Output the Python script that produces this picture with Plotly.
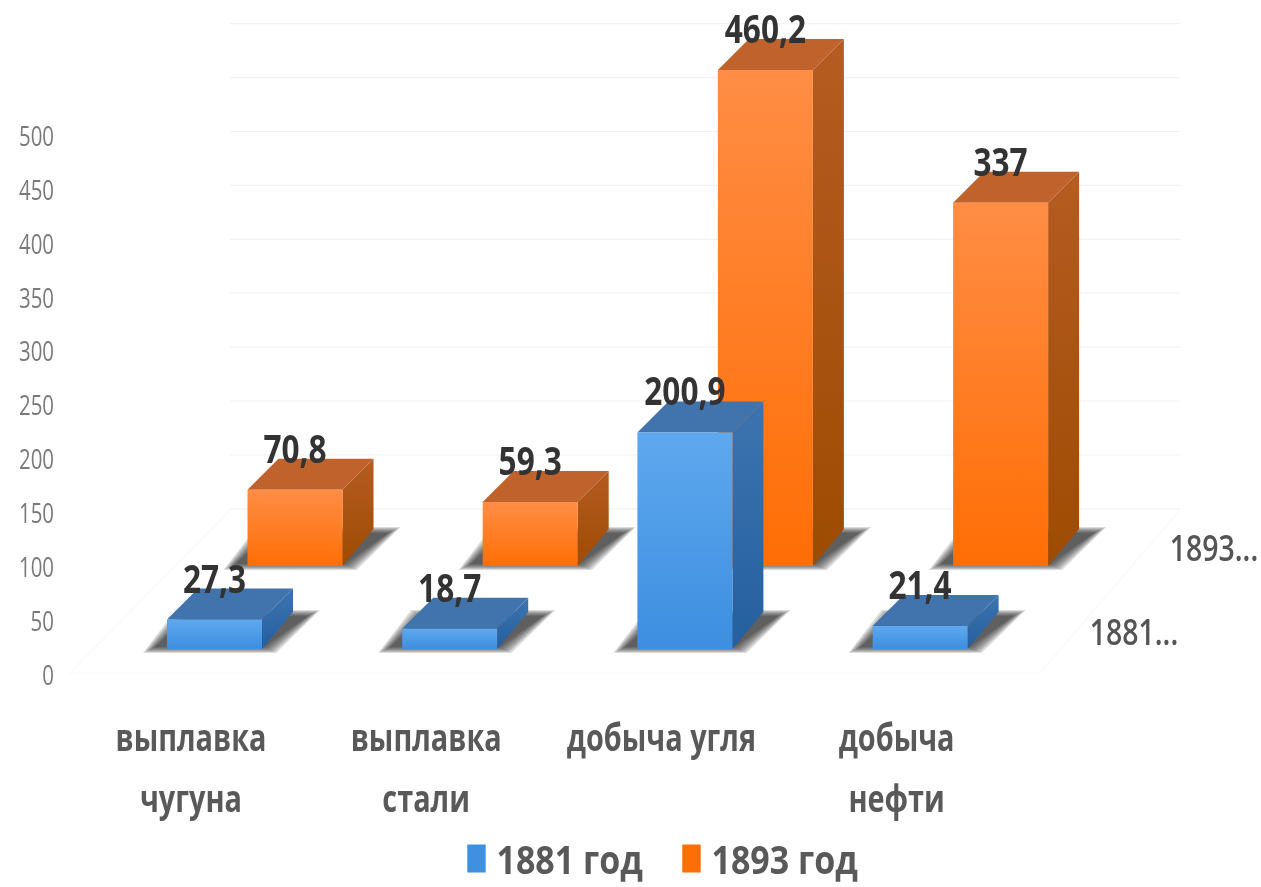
import plotly.graph_objects as go

# ---- data ----
categories = [["выплавка", "чугуна"], ["выплавка", "стали"], ["добыча угля"], ["добыча", "нефти"]]
values_1881 = [27.3, 18.7, 200.9, 21.4]
values_1893 = [70.8, 59.3, 460.2, 337]
y_ticks = [0, 50, 100, 150, 200, 250, 300, 350, 400, 450, 500]
wall_levels = [150, 200, 250, 300, 350, 400, 450, 500, 550, 600]
series_names = ["1881 год", "1893 год"]
depth_names = ["1881...", "1893..."]

# ---- layout scale ----
W, H = 1261, 887
L, BOTTOM = 55, 703
CAT_PX = 235.2
CAT0_PX = 191.0
ZERO_PX = 675.0
Y_PX = 1.078
def ux(px): return px / CAT_PX
def uy(px): return px / Y_PX
def X(px): return (px - CAT0_PX) / CAT_PX
def Y(px): return (ZERO_PX - px) / Y_PX

FONT = "Open Sans"
fig = go.Figure()

# back wall and floor lines
gx, gy = [], []
for lv in wall_levels:
    gx += [X(230), X(1180), None]
    gy += [lv + uy(4.5), lv + uy(4.5), None]
fig.add_trace(go.Scatter(x=gx, y=gy, mode="lines", line=dict(color="#f3f3f0", width=1.2),
                         hoverinfo="skip", showlegend=False))
fx = [X(70), X(1040), None, X(70), X(230), None, X(1040), X(1180)]
fy = [Y(673), Y(673), None, Y(673), Y(510), None, Y(673), Y(510)]
fig.add_trace(go.Scatter(x=fx, y=fy, mode="lines", line=dict(color="#fafaf7", width=1.2),
                         hoverinfo="skip", showlegend=False))

BAR_W = ux(95)
DX = ux(31)
DY_TOP = uy(31)
DY_BOT = uy(37)

def poly(xs, ys, **kw):
    fig.add_trace(go.Scatter(x=xs + xs[:1], y=ys + ys[:1], mode="lines", fill="toself",
                             line=dict(width=0), hoverinfo="skip", showlegend=False, **kw))

def bar3d(i, value, offset, base, front, side, top):
    x0 = i + offset
    x1 = x0 + BAR_W
    v = base + value
    # soft shadow: stacked translucent layers, from wide to narrow
    for grow in (6, 4, 2, 0, -2, -4, -6):
        g, h = ux(grow), uy(grow)
        poly([x0 - ux(18) - g, x1 + ux(8) + g, x1 + ux(52) + g, x0 + ux(15) - g],
             [base - uy(1) - h * .5, base - uy(1) - h * .5, base + uy(36) + h * .5, base + uy(36) + h * .5],
             fillcolor="rgba(30,30,30,0.16)")
    # side face
    poly([x1, x1 + DX, x1 + DX, x1], [base, base + DY_BOT, v + DY_TOP, v],
         fillgradient=dict(type="vertical", colorscale=[[0, side[1]], [1, side[0]]]),
         fillcolor=side[0])
    # top face
    poly([x0, x1, x1 + DX, x0 + DX], [v, v, v + DY_TOP, v + DY_TOP], fillcolor=top)
    # front face
    poly([x0, x1, x1, x0], [base, base, v, v],
         fillgradient=dict(type="vertical", colorscale=[[0, front[1]], [1, front[0]]]),
         fillcolor=front[0])

BLUE_OFF = ux(214.5 - 47.5 - CAT0_PX)
ORANGE_OFF = ux(295 - 47.5 - CAT0_PX)
BLUE_BASE = Y(649)
ORANGE_BASE = Y(566)
BLUE = dict(front=("#5ea8ee", "#3d8ee0"), side=("#3d74b0", "#245f9e"), top="#4173ad")
ORANGE = dict(front=("#ff8d45", "#ff6e05"), side=("#b55c22", "#9e4b02"), top="#bf622c")

for i, v in enumerate(values_1893):
    bar3d(i, v, ORANGE_OFF, ORANGE_BASE, **ORANGE)
for i, v in enumerate(values_1881):
    bar3d(i, v, BLUE_OFF, BLUE_BASE, **BLUE)

# value labels
lab_x, lab_y, lab_t = [], [], []
for vals, off, base in ((values_1893, ORANGE_OFF, ORANGE_BASE), (values_1881, BLUE_OFF, BLUE_BASE)):
    for i, v in enumerate(vals):
        lab_x.append(i + off + BAR_W / 2)
        lab_y.append(base + v + uy(37))
        lab_t.append(str(v).replace(".", ","))
fig.add_trace(go.Scatter(x=lab_x, y=lab_y, text=lab_t, mode="text", textposition="middle center",
                         textfont=dict(family=FONT, size=40, color="#333333", weight="bold"),
                         hoverinfo="skip", showlegend=False))

# depth axis labels
fig.add_trace(go.Scatter(x=[X(1134), X(1214)], y=[Y(636), Y(552)], text=depth_names, mode="text",
                         textposition="middle center",
                         textfont=dict(family=FONT, size=36, color="#555555", weight=600),
                         hoverinfo="skip", showlegend=False))

# legend entries
for name, c in zip(series_names, ("#3f90e0", "#ff6e05")):
    fig.add_trace(go.Scatter(x=[None], y=[None], mode="markers", name=name,
                             marker=dict(symbol="square", size=22, color=c)))

ticktext = ["<br>".join(f'<span style="font-size:38px">{s}</span>' for s in c) for c in categories]

fig.update_layout(
    width=W, height=H, margin=dict(l=L, r=0, t=0, b=H - BOTTOM, pad=0),
    paper_bgcolor="white", plot_bgcolor="white",
    font=dict(family=FONT),
    xaxis=dict(range=[X(L), X(W)], tickvals=list(range(len(categories))), ticktext=ticktext,
               tickfont=dict(family=FONT, size=47, color="#595959", weight="bold"),
               showgrid=False, zeroline=False, showline=False, ticks="", automargin=False),
    yaxis=dict(range=[Y(BOTTOM), Y(0)], tickvals=y_ticks,
               tickfont=dict(family=FONT, size=28, color="#7a7a7a"),
               showgrid=False, zeroline=False, showline=False, ticks="", automargin=False),
    legend=dict(orientation="h", xref="container", yref="container", x=0.362, y=0.032,
                xanchor="left", yanchor="middle", itemsizing="trace",
                entrywidth=170, entrywidthmode="pixels",
                font=dict(family=FONT, size=40, color="#595959", weight="bold"),
                bgcolor="rgba(0,0,0,0)"),
)

# narrow the glyphs in place (the reference text is horizontally condensed)
POST = """
document.body.style.margin='0';document.body.style.overflow='hidden';
function squeeze(sel,s){document.querySelectorAll(sel).forEach(function(t){
  var x=parseFloat(t.getAttribute('x'))||0, old=t.getAttribute('transform')||'';
  t.setAttribute('transform',old+' translate('+x+',0) scale('+s+',1) translate('+(-x)+',0)');});}
squeeze('.xtick text',0.76);squeeze('.ytick text',0.73);squeeze('.textpoint text',0.79);squeeze('.legendtext',0.85);
document.querySelectorAll('.legendpoints path').forEach(function(p){
  p.setAttribute('transform',(p.getAttribute('transform')||'')+' scale(1.15,1.75)');});
document.querySelectorAll('.main-svg').forEach(function(s){s.style.filter='blur(0.6px)';});
"""
fig.write_html("out.html", post_script=POST, config={"displayModeBar": False})
